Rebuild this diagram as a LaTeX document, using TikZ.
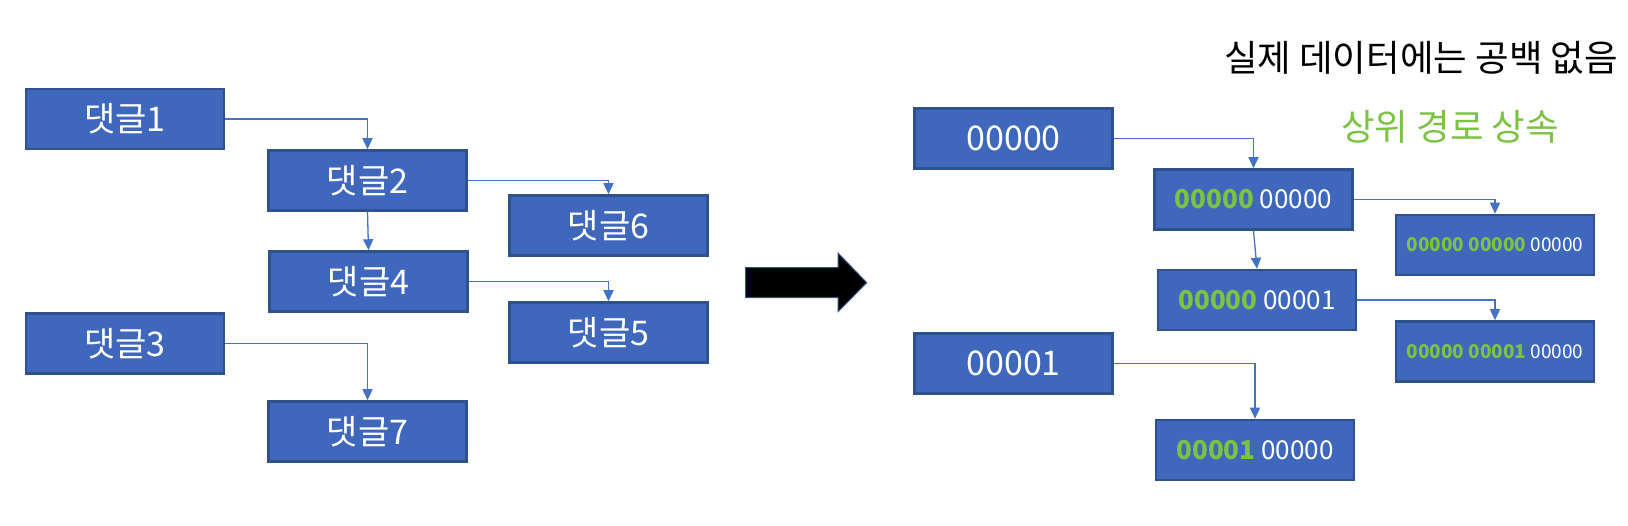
\documentclass[tikz,border=0pt]{standalone}
\usepackage{fontspec}
\setmainfont{Noto Sans CJK KR}
\usetikzlibrary{arrows.meta}
\definecolor{boxblue}{HTML}{3F68BD}
\definecolor{boxedge}{HTML}{2F528F}
\definecolor{linkblue}{HTML}{4472C4}
\definecolor{pathgreen}{HTML}{7CC243}
\begin{document}
\begin{tikzpicture}[x=1pt,y=-1pt,
  cbox/.style={draw=boxedge, fill=boxblue, line width=2.5pt, minimum width=198pt, minimum height=60pt, inner sep=0pt, text=white},
  bigtxt/.style={font=\fontsize{34}{40}\selectfont},
  midtxt/.style={font=\fontsize{26}{31}\selectfont},
  smalltxt/.style={font=\fontsize{19}{23}\selectfont},
  link/.style={draw=linkblue, line width=1.3pt, -{Triangle[length=11pt,width=10pt]}},
  title/.style={anchor=base, font=\fontsize{36.5}{43}\selectfont}]
\useasboundingbox (0,0) rectangle (1628,526);
% left tree
\node[cbox,bigtxt] (c1) at (125,119) {댓글1};
\node[cbox,bigtxt] (c2) at (367.5,180.5) {댓글2};
\node[cbox,bigtxt] (c6) at (608.5,225.5) {댓글6};
\node[cbox,bigtxt] (c4) at (368.5,281.5) {댓글4};
\node[cbox,bigtxt] (c5) at (608.5,332.5) {댓글5};
\node[cbox,bigtxt] (c3) at (125,343.5) {댓글3};
\node[cbox,bigtxt] (c7) at (367.5,431.5) {댓글7};
\draw[link] (c1.east) -| (c2.north);
\draw[link] (c2.east) -| (c6.north);
\draw[link] (c2.south) -- (c4.north);
\draw[link] (c4.east) -| (c5.north);
\draw[link] (c3.east) -| (c7.north);
% big arrow
\filldraw[fill=black, draw=boxedge, line width=1pt] (745.7,267.7) -- (838,267.7) -- (838,253) -- (866.7,282.7) -- (838,311.7) -- (838,297.7) -- (745.7,297.7) -- cycle;
% right tree
\node[cbox,bigtxt] (r1) at (1013.6,138.5) {00000};
\node[cbox,midtxt] (r2) at (1253.5,199.5) {\textcolor{pathgreen}{\textbf{00000}} 00000};
\node[cbox,smalltxt] (r3) at (1495,245) {\textcolor{pathgreen}{\textbf{00000 00000}} 00000};
\node[cbox,midtxt] (r4) at (1257,300) {\textcolor{pathgreen}{\textbf{00000}} 00001};
\node[cbox,smalltxt] (r5) at (1495,351.5) {\textcolor{pathgreen}{\textbf{00000 00001}} 00000};
\node[cbox,bigtxt] (r6) at (1013.6,363.5) {00001};
\node[cbox,midtxt] (r7) at (1255,450) {\textcolor{pathgreen}{\textbf{00001}} 00000};
\draw[link] (r1.east) -| (r2.north);
\draw[link] (r2.east) -| (r3.north);
\draw[link] (r2.south) -- (r4.north);
\draw[link] (r4.east) -| (r5.north);
\draw[link] (r6.east) -| (r7.north);
% captions
\node[title] (note) at (1421,72) {실제 데이터에는 공백 없음};
\node[title, text=pathgreen] (inherit) at (1450,141) {상위 경로 상속};
\end{tikzpicture}
\end{document}
